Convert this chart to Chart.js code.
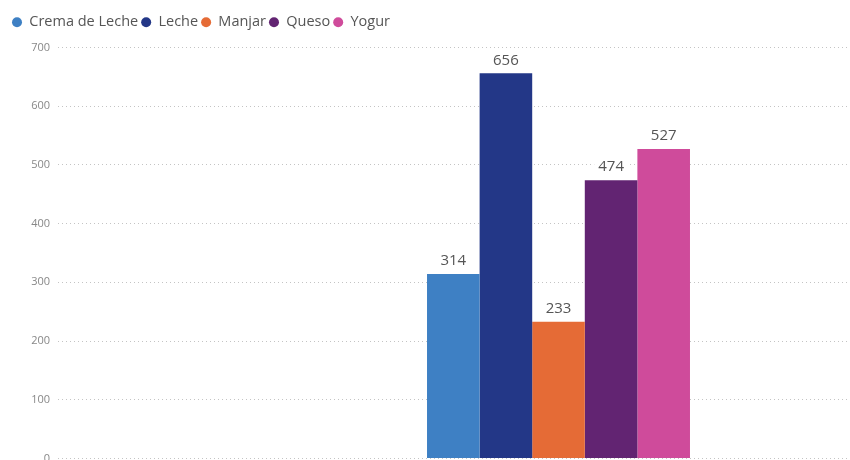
<!DOCTYPE html>
<html>
<head>
<meta charset="utf-8">
<script src="https://cdn.jsdelivr.net/npm/chart.js@4.4.1/dist/chart.umd.min.js"></script>
<style>
  html, body { margin: 0; padding: 0; background: #fff; overflow: hidden; }
  /* the source visual is cropped on the right and bottom, so the canvas runs past the window */
  #wrap { width: 850px; height: 460px; overflow: hidden; }
  #box { width: 1059px; height: 473px; }
</style>
</head>
<body>
<div id="wrap"><div id="box"><canvas id="ventas"></canvas></div></div>
<script>
const categories = ['Total'];
const products = ['Crema de Leche', 'Leche', 'Manjar', 'Queso', 'Yogur'];
const values = [314, 656, 233, 474, 527];
const colors = ['#3E80C4', '#233787', '#E56B36', '#622472', '#CF4B9B'];
const yMax = 700;
const yStep = 100;

const FONT = '"Segoe UI", "Open Sans", "Noto Sans", sans-serif';

// labels over the bars, on a white box like Power BI
const barLabels = {
    id: 'barLabels',
    afterDatasetsDraw(chart) {
        const ctx = chart.ctx;
        ctx.save();
        ctx.font = '15px ' + FONT;
        ctx.textAlign = 'center';
        ctx.textBaseline = 'middle';
        chart.data.datasets.forEach((ds, i) => {
            chart.getDatasetMeta(i).data.forEach((bar, j) => {
                const txt = String(ds.data[j]);
                const w = ctx.measureText(txt).width + 8;
                const cy = bar.y - 13;
                ctx.fillStyle = '#fff';
                ctx.fillRect(bar.x - w / 2, cy - 10, w, 20);
                ctx.fillStyle = '#555';
                ctx.fillText(txt, bar.x, cy);
            });
        });
        ctx.restore();
    }
};

// a bit more room under the legend
const legendGap = {
    id: 'legendGap',
    beforeInit(chart) {
        const fit = chart.legend.fit;
        chart.legend.fit = function () {
            fit.call(this);
            this.height += 8;
        };
    }
};

new Chart(document.getElementById('ventas'), {
    type: 'bar',
    data: {
        labels: categories,
        datasets: products.map((p, i) => ({
            label: p,
            data: [values[i]],
            backgroundColor: colors[i],
            borderWidth: 0,
            barPercentage: 1,
            categoryPercentage: 0.2627
        }))
    },
    options: {
        responsive: true,
        maintainAspectRatio: false,
        animation: false,
        layout: { padding: { left: 9, top: 12, right: 0, bottom: 2 } },
        plugins: {
            legend: {
                position: 'top',
                align: 'start',
                labels: {
                    usePointStyle: true,
                    pointStyle: 'circle',
                    pointStyleWidth: 10,
                    boxHeight: 7,
                    padding: 3,
                    color: '#555',
                    font: { family: FONT, size: 14.5 }
                }
            },
            tooltip: { enabled: false }
        },
        scales: {
            x: { display: false },
            y: {
                min: 0,
                max: yMax,
                ticks: { stepSize: yStep, padding: 8, color: '#888', font: { family: FONT, size: 11 } },
                grid: { color: '#c4c4c4', drawTicks: false },
                border: { display: false, dash: [1, 3] },
                afterFit(scale) { scale.width = 49; }
            }
        }
    },
    plugins: [barLabels, legendGap]
});
</script>
</body>
</html>
